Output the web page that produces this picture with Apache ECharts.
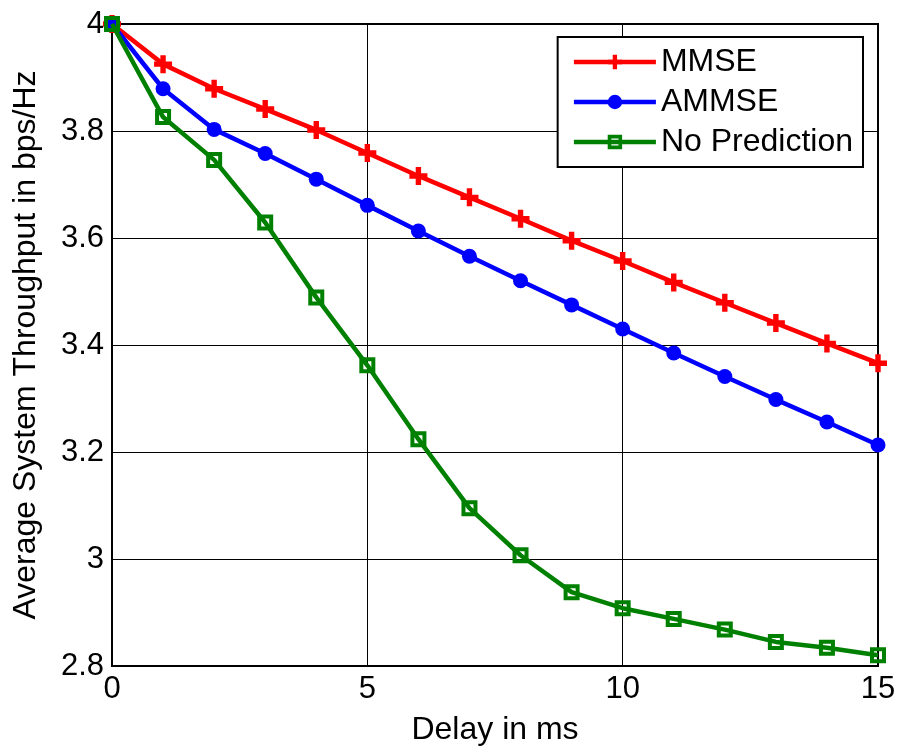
<!DOCTYPE html>
<html>
<head>
<meta charset="utf-8">
<script src="https://cdn.jsdelivr.net/npm/echarts@6/dist/echarts.min.js"></script>
<style>
  html, body { margin: 0; padding: 0; background: #fff; }
  #chart { width: 900px; height: 751px; }
</style>
</head>
<body>
<div id="chart"></div>
<script>
// delay in ms
const delays = [0, 1, 2, 3, 4, 5, 6, 7, 8, 9, 10, 11, 12, 13, 14, 15];
// throughput (bps/Hz)
const mmse = [4.0, 3.925, 3.879, 3.841, 3.802, 3.759, 3.716, 3.676, 3.636, 3.595, 3.557, 3.517, 3.479, 3.441, 3.403, 3.366];
const ammse = [4.0, 3.879, 3.803, 3.758, 3.710, 3.661, 3.613, 3.566, 3.520, 3.475, 3.430, 3.385, 3.341, 3.298, 3.256, 3.213];
const noPred = [4.0, 3.826, 3.746, 3.629, 3.489, 3.362, 3.224, 3.095, 3.007, 2.938, 2.908, 2.888, 2.868, 2.845, 2.834, 2.820];

const seriesNames = ['MMSE', 'AMMSE', 'No Prediction'];

const pair = (ys) => delays.map((x, i) => [x, ys[i]]);

// plus marker as a filled shape
const plusPath = 'path://M3.5,0h3v3.5h3.5v3h-3.5v3.5h-3v-3.5h-3.5v-3h3.5z';
// hollow square, the line shows through
const squarePath = 'path://M0,0H10V10H0Z M2.5,2.5V7.5H7.5V2.5Z';

const chart = echarts.init(document.getElementById('chart'));

const font = 'Liberation Sans, Arial, sans-serif';

chart.setOption({
  animation: false,
  backgroundColor: '#fff',
  grid: {
    left: 112, right: 22, top: 24, bottom: 84,
    show: true, borderColor: '#000', borderWidth: 2
  },
  legend: {
    right: 37, top: 37,
    orient: 'vertical',
    backgroundColor: '#fff',
    borderColor: '#000',
    borderWidth: 2,
    padding: [9, 10, 9, 14],
    itemGap: 8,
    itemWidth: 82,
    itemHeight: 18,
    lineStyle: { width: 4.5 },
    textStyle: { fontFamily: font, fontSize: 32, color: '#000', padding: [0, 0, 0, 0] },
    data: seriesNames
  },
  xAxis: {
    type: 'value',
    min: 0, max: 15, interval: 5,
    name: 'Delay in ms',
    nameLocation: 'middle',
    nameGap: 48,
    nameTextStyle: { fontFamily: font, fontSize: 32, color: '#000' },
    axisLine: { show: true, onZero: false, lineStyle: { color: '#000', width: 2 } },
    axisTick: { inside: true, length: 8, lineStyle: { color: '#000' } },
    axisLabel: { fontFamily: font, fontSize: 31, color: '#000', margin: 8 },
    splitLine: { show: true, lineStyle: { color: '#000', width: 1 } }
  },
  yAxis: {
    type: 'value',
    min: 2.8, max: 4, interval: 0.2,
    name: 'Average System Throughput in bps/Hz',
    nameLocation: 'middle',
    nameGap: 70,
    nameTextStyle: { fontFamily: font, fontSize: 32, color: '#000' },
    axisLine: { show: true, onZero: false, lineStyle: { color: '#000', width: 2 } },
    axisTick: { inside: true, length: 8, lineStyle: { color: '#000' } },
    axisLabel: {
      fontFamily: font, fontSize: 31, color: '#000', margin: 8,
      formatter: (v) => String(+v.toFixed(1))
    },
    splitLine: { show: true, lineStyle: { color: '#000', width: 1 } }
  },
  series: [
    {
      name: 'MMSE', type: 'line', data: pair(mmse),
      symbol: plusPath, symbolSize: 18, z: 3,
      lineStyle: { color: '#ff0000', width: 4.5 },
      itemStyle: { color: '#ff0000' }
    },
    {
      name: 'AMMSE', type: 'line', data: pair(ammse),
      symbol: 'circle', symbolSize: 15, z: 4,
      lineStyle: { color: '#0000ff', width: 4.5 },
      itemStyle: { color: '#0000ff' }
    },
    {
      name: 'No Prediction', type: 'line', data: pair(noPred),
      symbol: squarePath, symbolSize: 16, z: 5,
      lineStyle: { color: '#008000', width: 4.5 },
      itemStyle: { color: '#008000' }
    }
  ]
});
</script>
</body>
</html>
